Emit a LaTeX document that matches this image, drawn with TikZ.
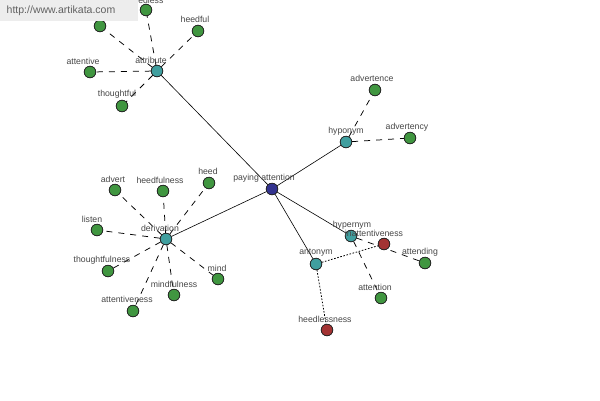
\documentclass[tikz,border=0pt]{standalone}
\usepackage{fontspec}
\setmainfont{Liberation Sans}
\begin{document}
\begin{tikzpicture}[x=1pt,y=-1pt,
  dot/.style={circle,draw=black!85,line width=0.7pt,minimum size=11.5pt,inner sep=0pt},
  gdot/.style={dot,fill=green!45!black!75},
  tdot/.style={dot,fill=teal!75!white},
  rdot/.style={dot,fill=red!55!black!80},
  bdot/.style={dot,fill=blue!45!black!80},
  lbl/.style={font=\fontsize{8.7}{9}\selectfont,text=black!72,inner sep=0pt},
  rel/.style={line width=0.6pt,black},
  sub/.style={line width=0.75pt,black,dash pattern=on 6pt off 6pt},
  ant/.style={line width=0.8pt,black,dash pattern=on 1.6pt off 1.6pt}]
\clip (0,0) rectangle (600,400);
\fill[white] (0,0) rectangle (600,400);
% nodes
\node[bdot] (pa) at (272,189) {};
\node[tdot] (attr) at (157,71) {};
\node[tdot] (hypo) at (346,142) {};
\node[tdot] (der) at (166,239) {};
\node[tdot] (hyper) at (351,236) {};
\node[tdot] (anto) at (316,264) {};
\node[gdot] (attentive) at (90,72) {};
\node[gdot] (heedful) at (198,31) {};
\node[gdot] (thoughtful) at (122,106) {};
\node[gdot] (top) at (146,10) {};
\node[gdot] (hid) at (100,26) {};
\node[gdot] (advertence) at (375,90) {};
\node[gdot] (advertency) at (410,138) {};
\node[gdot] (advert) at (115,190) {};
\node[gdot] (heedfulness) at (163,191) {};
\node[gdot] (heed) at (209,183) {};
\node[gdot] (listen) at (97,230) {};
\node[gdot] (thoughtfulness) at (108,271) {};
\node[gdot] (mindfulness) at (174,295) {};
\node[gdot] (mind) at (218,279) {};
\node[gdot] (attentiveness) at (133,311) {};
\node[gdot] (attending) at (425,263) {};
\node[gdot] (attention) at (381,298) {};
\node[rdot] (inatt) at (384,244) {};
\node[rdot] (heedless) at (327,330) {};
% edges
\draw[rel] (pa) -- (attr);
\draw[rel] (pa) -- (hypo);
\draw[rel] (pa) -- (der);
\draw[rel] (pa) -- (hyper);
\draw[rel] (pa) -- (anto);
\foreach \n in {attentive,heedful,thoughtful,top,hid} \draw[sub] (attr) -- (\n);
\foreach \n in {advertence,advertency} \draw[sub] (hypo) -- (\n);
\foreach \n in {advert,heedfulness,heed,listen,thoughtfulness,mindfulness,mind,attentiveness} \draw[sub] (der) -- (\n);
\foreach \n in {attending,attention} \draw[sub] (hyper) -- (\n);
\foreach \n in {inatt,heedless} \draw[ant] (anto) -- (\n);
% redraw nodes on top of connectors
\foreach \n/\s in {pa/bdot,attr/tdot,hypo/tdot,der/tdot,hyper/tdot,anto/tdot,inatt/rdot,heedless/rdot}
  \node[\s] at (\n) {};
\foreach \n in {attentive,heedful,thoughtful,top,hid,advertence,advertency,advert,heedfulness,heed,listen,thoughtfulness,mindfulness,mind,attentiveness,attending,attention}
  \node[gdot] at (\n) {};
% labels
\node[lbl] (l-pa) at (264,178) {paying attention};
\node[lbl] (l-attr) at (151,60) {attribute};
\node[lbl] (l-attentive) at (83,61) {attentive};
\node[lbl] (l-heedful) at (195,19) {heedful};
\node[lbl] (l-thoughtful) at (117,94) {thoughtful};
\node[lbl] (l-top) at (146,0) {heedless};
\node[lbl] (l-hypo) at (346,131) {hyponym};
\node[lbl] (l-advertence) at (372,78) {advertence};
\node[lbl] (l-advertency) at (407,127) {advertency};
\node[lbl] (l-der) at (160,228) {derivation};
\node[lbl] (l-advert) at (113,179) {advert};
\node[lbl] (l-heedfulness) at (160,180) {heedfulness};
\node[lbl] (l-heed) at (208,171) {heed};
\node[lbl] (l-listen) at (92,219) {listen};
\node[lbl] (l-thoughtfulness) at (102,260) {thoughtfulness};
\node[lbl] (l-mindfulness) at (174,284) {mindfulness};
\node[lbl] (l-mind) at (217,268) {mind};
\node[lbl] (l-attentiveness) at (127,299) {attentiveness};
\node[lbl] (l-hyper) at (352,225) {hypernym};
\node[lbl] (l-attending) at (420,252) {attending};
\node[lbl] (l-attention) at (375,287) {attention};
\node[lbl] (l-anto) at (316,253) {antonym};
\node[lbl] (l-inatt) at (374,233) {inattentiveness};
\node[lbl] (l-heedless) at (325,319) {heedlessness};
% watermark
\fill[black!7] (0,0) rectangle (138,21);
\node[font=\fontsize{10.5}{11}\selectfont,text=black!62,inner sep=0pt] (wm) at (61,11) {http://www.artikata.com};
\end{tikzpicture}
\end{document}
